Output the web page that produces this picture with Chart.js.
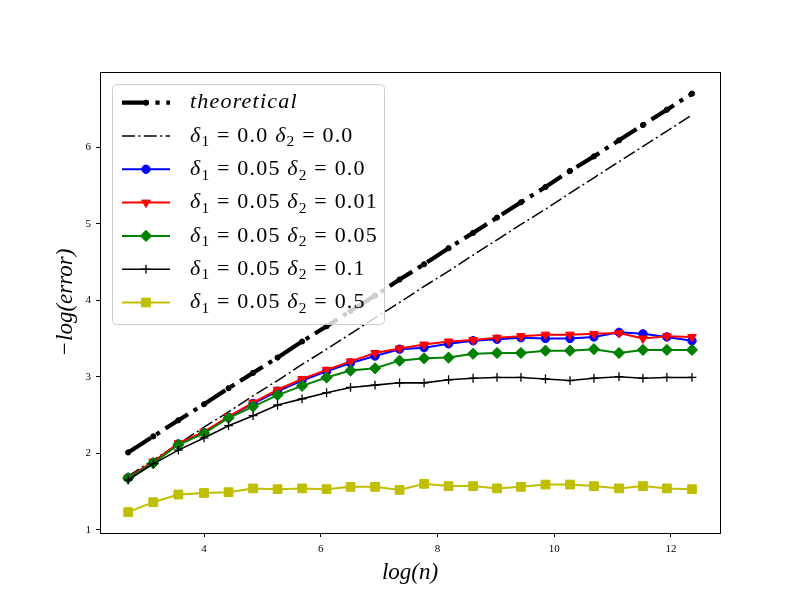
<!DOCTYPE html>
<html>
<head>
<meta charset="utf-8">
<script src="https://cdn.jsdelivr.net/npm/chart.js@4"></script>
<style>
  html, body { margin: 0; padding: 0; background: #fff; }
  #wrap { width: 800px; height: 600px; }
</style>
</head>
<body>
<div id="wrap"><canvas id="chart" width="800" height="600"></canvas></div>
<script>
// -log(error) against log(n) for several noise levels

const logN = [2.70, 3.13, 3.56, 4.00, 4.42, 4.84, 5.26, 5.68, 6.10, 6.51, 6.93, 7.35,
              7.77, 8.19, 8.61, 9.02, 9.43, 9.85, 10.27, 10.68, 11.11, 11.52, 11.93, 12.36];

const theoretical = [2.01, 2.22, 2.43, 2.64, 2.85, 3.05, 3.25, 3.46, 3.66, 3.86, 4.06, 4.27,
                     4.47, 4.68, 4.88, 5.08, 5.28, 5.48, 5.69, 5.88, 6.09, 6.29, 6.49, 6.70];
const d1_00_d2_00 = [1.70, 1.91, 2.12, 2.34, 2.54, 2.75, 2.95, 3.16, 3.36, 3.56, 3.77, 3.97,
                     4.18, 4.38, 4.59, 4.79, 4.99, 5.19, 5.40, 5.60, 5.81, 6.01, 6.21, 6.42];
const d1_05_d2_00 = [1.68, 1.88, 2.12, 2.27, 2.47, 2.65, 2.81, 2.95, 3.07, 3.18, 3.27, 3.36,
                     3.38, 3.43, 3.47, 3.49, 3.51, 3.50, 3.50, 3.52, 3.58, 3.56, 3.52, 3.47];
const d1_05_d2_01 = [1.68, 1.89, 2.13, 2.28, 2.48, 2.66, 2.83, 2.97, 3.09, 3.20, 3.31, 3.37,
                     3.42, 3.46, 3.48, 3.51, 3.53, 3.55, 3.55, 3.56, 3.57, 3.50, 3.53, 3.52];
const d1_05_d2_05 = [1.675, 1.87, 2.11, 2.26, 2.46, 2.61, 2.76, 2.88, 2.99, 3.08, 3.11, 3.21,
                     3.24, 3.25, 3.30, 3.31, 3.31, 3.34, 3.34, 3.36, 3.31, 3.35, 3.35, 3.35];
const d1_05_d2_1 = [1.65, 1.86, 2.04, 2.20, 2.36, 2.49, 2.63, 2.71, 2.79, 2.86, 2.89, 2.92,
                    2.92, 2.96, 2.98, 2.99, 2.99, 2.97, 2.95, 2.98, 3.00, 2.98, 2.99, 2.99];
const d1_05_d2_5 = [1.23, 1.36, 1.46, 1.48, 1.49, 1.54, 1.53, 1.54, 1.53, 1.56, 1.56, 1.52,
                    1.60, 1.57, 1.57, 1.54, 1.56, 1.59, 1.59, 1.57, 1.54, 1.57, 1.54, 1.53];

const xTickLabels = ['4', '6', '8', '10', '12'];
const yTickLabels = ['1', '2', '3', '4', '5', '6'];

const SERIF = '"Liberation Serif", "DejaVu Serif", serif';

// legend labels: [text, italic?, subscript?]
const labels = [
  [['theoretical', true]],
  [['δ', true], ['1', false, true], [' = 0.0 '], ['δ', true], ['2', false, true], [' = 0.0']],
  [['δ', true], ['1', false, true], [' = 0.05 '], ['δ', true], ['2', false, true], [' = 0.0']],
  [['δ', true], ['1', false, true], [' = 0.05 '], ['δ', true], ['2', false, true], [' = 0.01']],
  [['δ', true], ['1', false, true], [' = 0.05 '], ['δ', true], ['2', false, true], [' = 0.05']],
  [['δ', true], ['1', false, true], [' = 0.05 '], ['δ', true], ['2', false, true], [' = 0.1']],
  [['δ', true], ['1', false, true], [' = 0.05 '], ['δ', true], ['2', false, true], [' = 0.5']],
];

const series = [theoretical, d1_00_d2_00, d1_05_d2_00, d1_05_d2_01, d1_05_d2_05, d1_05_d2_1, d1_05_d2_5];
const styles = [
  { color: '#000000', width: 4.2, dash: [26.7, 6.7, 4.2, 6.7], point: 'circle', radius: 2.6, rot: 0 },
  { color: '#000000', width: 1.5, dash: [13, 3.4, 2, 3.4], point: false, radius: 0, rot: 0 },
  { color: '#0000ff', width: 2, dash: [], point: 'circle', radius: 4.2, rot: 0 },
  { color: '#ff0000', width: 2, dash: [], point: 'triangle', radius: 5, rot: 180 },
  { color: '#008000', width: 2, dash: [], point: 'rectRot', radius: 5.6, rot: 0 },
  { color: '#000000', width: 1.6, dash: [], point: 'cross', radius: 4.4, rot: 0 },
  { color: '#bfbf00', width: 2, dash: [], point: 'rect', radius: 6.2, rot: 0 },
];

const datasets = series.map((vals, i) => ({
  label: 'series' + i,
  data: vals.map((v, k) => ({ x: logN[k], y: v })),
  borderColor: styles[i].color,
  backgroundColor: styles[i].color,
  borderWidth: styles[i].width,
  borderDash: styles[i].dash,
  pointStyle: styles[i].point,
  pointRadius: styles[i].radius,
  pointRotation: styles[i].rot,
  pointBorderWidth: i === 5 ? 1.3 : 1,
  tension: 0,
  order: series.length - i,
}));

function drawParts(ctx, parts, x, y, size) {
  let cx = x;
  ctx.letterSpacing = '1.2px';
  parts.forEach(p => {
    const [t, it, sub] = p;
    const fs = sub ? size * 0.7 : size;
    ctx.font = (it ? 'italic ' : '') + fs + 'px ' + SERIF;
    ctx.fillText(t, cx, sub ? y + size * 0.28 : y);
    cx += ctx.measureText(t).width;
  });
  ctx.letterSpacing = '0px';
}

const framePlugin = {
  id: 'frame',
  afterDatasetsDraw(chart) {
    const { ctx, chartArea: a } = chart;
    ctx.save();
    ctx.strokeStyle = '#000';
    ctx.lineWidth = 1;
    ctx.strokeRect(Math.round(a.left) + 0.5, Math.round(a.top) + 0.5,
                   Math.round(a.right - a.left), Math.round(a.bottom - a.top));
    ctx.restore();
  }
};

const legendPlugin = {
  id: 'boxLegend',
  afterDraw(chart) {
    const ctx = chart.ctx;
    const bx = 112.5, by = 84.5, bw = 272, bh = 240;
    ctx.save();
    ctx.beginPath();
    ctx.roundRect(bx, by, bw, bh, 4);
    ctx.fillStyle = 'rgba(255,255,255,0.8)';
    ctx.fill();
    ctx.strokeStyle = '#cccccc';
    ctx.lineWidth = 1;
    ctx.stroke();

    const rowY0 = 102.7, rowGap = 33.3;
    labels.forEach((parts, i) => {
      const s = styles[i];
      const y = rowY0 + i * rowGap;
      ctx.save();
      ctx.strokeStyle = s.color;
      ctx.fillStyle = s.color;
      ctx.lineWidth = s.width;
      ctx.setLineDash(s.dash);
      ctx.beginPath();
      ctx.moveTo(122, y);
      ctx.lineTo(170, y);
      ctx.stroke();
      ctx.setLineDash([]);
      if (s.point) {
        ctx.lineWidth = i === 5 ? 1.3 : 1;
        Chart.helpers.drawPoint(ctx, { pointStyle: s.point, radius: s.radius, rotation: s.rot, borderWidth: 1 }, 146, y);
      }
      ctx.restore();
      ctx.fillStyle = '#000';
      ctx.textBaseline = 'middle';
      drawParts(ctx, parts, 190, y, 22);
    });
    ctx.restore();
  }
};

new Chart(document.getElementById('chart'), {
  type: 'line',
  data: { datasets },
  options: {
    responsive: false,
    animation: false,
    layout: { padding: { left: 0, right: 80, top: 72, bottom: 0 } },
    plugins: { legend: { display: false }, tooltip: { enabled: false } },
    scales: {
      x: {
        type: 'linear',
        min: 2.218,
        max: 12.84,
        afterFit: s => { s.height = 67; },
        border: { display: true, color: '#000', width: 1 },
        grid: { drawOnChartArea: false, drawTicks: true, tickLength: 4, color: '#000' },
        ticks: {
          stepSize: 2,
          includeBounds: false,
          padding: 6,
          color: '#000',
          font: { family: SERIF, size: 11 },
          callback: v => xTickLabels.includes(String(v)) ? String(v) : null,
        },
        title: {
          display: true,
          text: 'log(n)',
          color: '#000',
          font: { family: SERIF, size: 23, style: 'italic' },
          padding: { top: 0, bottom: 13 },
        },
      },
      y: {
        type: 'linear',
        min: 0.957,
        max: 6.983,
        afterFit: s => { s.width = 100; },
        border: { display: true, color: '#000', width: 1 },
        grid: { drawOnChartArea: false, drawTicks: true, tickLength: 4, color: '#000' },
        ticks: {
          stepSize: 1,
          includeBounds: false,
          padding: 5,
          color: '#000',
          font: { family: SERIF, size: 11 },
          callback: v => yTickLabels.includes(String(v)) ? String(v) : null,
        },
        title: {
          display: true,
          text: '\u2212log(error)',
          color: '#000',
          font: { family: SERIF, size: 23, style: 'italic' },
          padding: { top: 52, bottom: 0 },
        },
      },
    },
  },
  plugins: [framePlugin, legendPlugin],
});
</script>
</body>
</html>
